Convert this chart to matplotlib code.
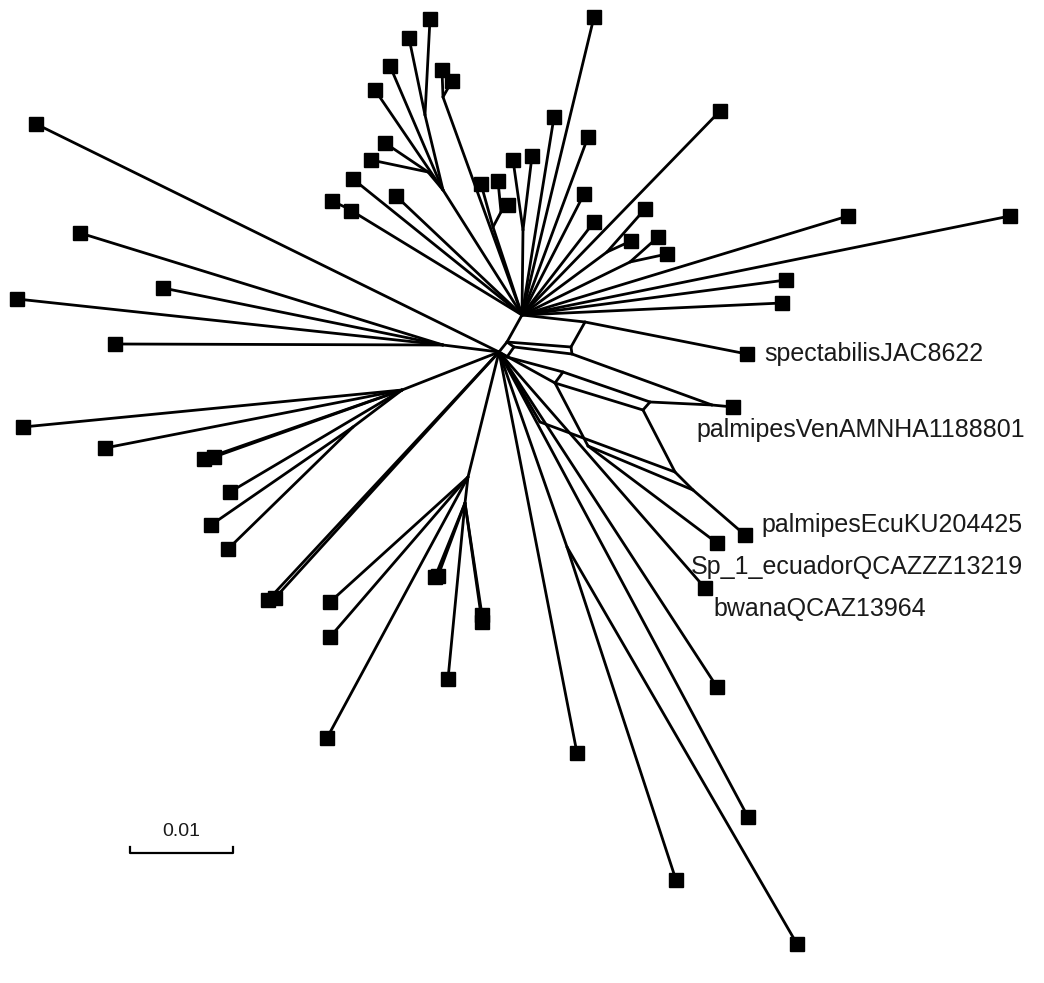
import matplotlib
matplotlib.use("Agg")
import matplotlib.pyplot as plt

# internal network nodes (layout coordinates, y grows downward)
node_names = ["A", "B", "P1", "P2", "Q1", "Q2", "Q3", "T", "R1", "R2", "S0", "S1",
              "V", "C1", "D1", "X1", "X2", "N", "L", "L2", "M", "G", "G2",
              "J0", "J1", "J2", "Jh", "K", "K2", "Jp", "Jb", "Jc", "Jd"]
node_x = [522, 499, 585, 571, 507, 514, 507, 572, 563, 555, 650, 643,
          712, 540, 588, 675, 693, 567, 443, 402, 353, 468, 465,
          425, 428, 443, 443, 493, 501, 347, 523, 607, 630]
node_y = [315, 352, 322, 347, 342, 347, 357, 354, 372, 383, 402, 410,
          405, 422, 446, 472, 490, 547, 345, 390, 427, 477, 503,
          115, 172, 190, 97, 227, 212, 208, 230, 252, 262]

# split edges between internal nodes
internal_edges = [("A", "P1"), ("P1", "P2"), ("A", "Q1"), ("Q1", "P2"), ("Q1", "B"),
                  ("Q1", "Q2"), ("Q2", "Q3"), ("Q3", "B"), ("Q2", "T"), ("P2", "T"),
                  ("T", "V"), ("Q3", "R1"), ("R1", "R2"), ("B", "R2"), ("R1", "S0"),
                  ("R2", "S1"), ("S0", "S1"), ("S0", "V"), ("S1", "X1"), ("X1", "X2"),
                  ("B", "C1"), ("C1", "X1"), ("R2", "D1"), ("D1", "X2"), ("B", "N"),
                  ("L", "B"), ("L2", "B"), ("M", "L2"), ("G", "B"), ("G2", "G"),
                  ("Jh", "A"), ("J0", "J2"), ("J1", "J2"), ("J2", "A"), ("K2", "K"),
                  ("K", "A"), ("Jp", "A"), ("Jb", "A"), ("Jc", "A"), ("Jd", "A")]

# taxa (leaves): position, attached node
tip_x = [594, 430, 409, 390, 375, 442, 452, 385, 371, 353, 332, 351, 396, 481, 498, 508,
         513, 532, 554, 588, 584, 594, 645, 631, 658, 667, 720, 848, 1010, 786, 782,
         747, 733,
         36, 80, 17, 163, 115, 23, 105, 204, 214, 230, 211, 228, 268, 275, 330, 330,
         327, 435, 438, 448, 482, 482, 577, 676, 797, 748, 717, 705, 717, 745]
tip_y = [17, 19, 38, 66, 90, 70, 81, 143, 160, 179, 201, 211, 196, 184, 181, 205,
         160, 156, 117, 137, 194, 222, 209, 241, 237, 254, 111, 216, 216, 280, 303,
         354, 407,
         124, 233, 299, 288, 344, 427, 448, 459, 457, 492, 525, 549, 600, 598, 602, 637,
         738, 577, 576, 679, 615, 622, 753, 880, 944, 817, 687, 588, 543, 535]
tip_parent = ["A", "J0", "J0", "J2", "J2", "Jh", "Jh", "J1", "J1", "A", "Jp", "Jp", "A",
              "K", "K2", "K2", "Jb", "Jb", "A", "A", "A", "A", "Jc", "Jc", "Jd", "Jd",
              "A", "A", "A", "A", "A", "P1", "V",
              "B", "L", "L", "L", "L", "L2", "L2", "L2", "L2", "L2", "M", "M", "B", "B",
              "G", "G", "G", "G2", "G2", "G2", "G2", "G2", "B", "N", "N", "B", "B", "B",
              "D1", "X2"]

labels = ["spectabilisJAC8622", "palmipesVenAMNHA1188801", "palmipesEcuKU204425",
          "Sp_1_ecuadorQCAZZZ13219", "bwanaQCAZ13964"]
label_x = [764, 696, 761, 691, 713]
label_y = [354, 430, 525, 567, 609]

scale_len = 103  # length of 0.01 in layout units
scale_text = "0.01"

pos = {n: (x, y) for n, x, y in zip(node_names, node_x, node_y)}

fig = plt.figure(figsize=(10.44, 9.83), dpi=100)
ax = fig.add_axes([0, 0, 1, 1])
ax.set_xlim(0, 1044)
ax.set_ylim(983, 0)
ax.axis("off")

lw = 2.0
for a, b in internal_edges:
    ax.plot([pos[a][0], pos[b][0]], [pos[a][1], pos[b][1]], color="black",
            lw=lw, solid_capstyle="round")

for x, y, p in zip(tip_x, tip_y, tip_parent):
    ax.plot([pos[p][0], x], [pos[p][1], y], color="black", lw=lw,
            solid_capstyle="round")
ax.plot(tip_x, tip_y, "s", color="black", ms=9.5, ls="none", zorder=5)

for t, x, y in zip(labels, label_x, label_y):
    ax.text(x, y, t, fontsize=18, family="Liberation Sans", ha="left", va="center",
            color="#1a1a1a")

# scale bar
sx, sy = 130, 853
ax.plot([sx, sx, sx + scale_len, sx + scale_len], [sy - 6, sy, sy, sy - 6],
        color="black", lw=1.6)
ax.text(sx + scale_len / 2, sy - 21, scale_text, fontsize=14,
        family="Liberation Sans", ha="center", va="center", color="#1a1a1a")

fig.savefig("out.png", dpi=100)
